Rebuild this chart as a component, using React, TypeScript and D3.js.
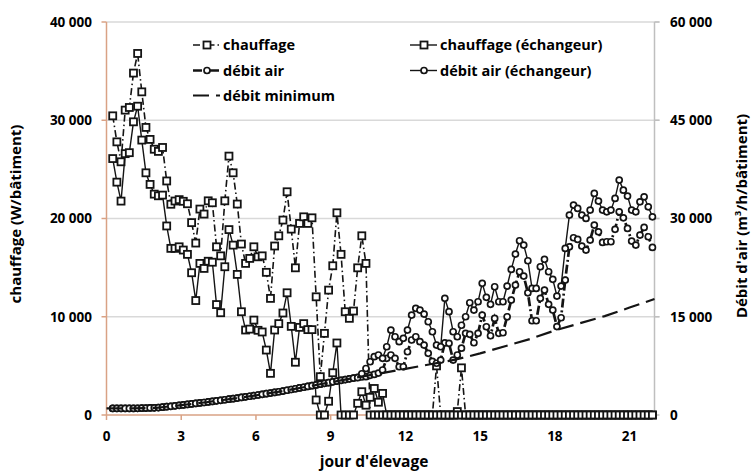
import { useRef, useEffect } from "react";
import * as d3 from "d3";

// one point every 4 hours, first one at day 0.25
const N_POINTS = 131;
const days = d3.range(N_POINTS).map((i) => 0.25 + i / 6);

// chauffage (W/bâtiment), left axis
const chauffage = [
  30450, 27800, 25770, 31030, 31300, 34800, 36800, 32890, 29270, 28050,
  27050, 26830, 27230, 23820, 21450, 21780, 21920, 21750, 21500, 19580,
  17500, 20960, 20450, 21800, 21600, 17120, 16200, 21800, 26350, 24650,
  21470, 17400, 15430, 15940, 17120, 16100, 16200, 14520, 11870, 17200,
  18240, 19840, 22720, 18920, 14980, 19500, 20170, 19500, 20070, 12030,
  3900, 8310, 12710, 15190, 20580, 16350, 10510, 9840, 10580, 14980,
  18240, 15430, 0, 0, 0, 0, 0, 0, 0, 0,
  0, 0, 0, 0, 0, 0, 0, 0, 5000, 0,
  0, 0, 0, 350, 4800, 0, 0, 0, 0, 0,
  0, 0, 0, 0, 0, 0, 0, 0, 0, 0,
  0, 0, 0, 0, 0, 0, 0, 0, 0, 0,
  0, 0, 0, 0, 0, 0, 0, 0, 0, 0,
  0, 0, 0, 0, 0, 0, 0, 0, 0, 0,
  0,
];

const chauffageEchangeur = [
  26100, 23700, 21770, 26600, 26700, 29840, 31430, 27980, 24650, 23470,
  22480, 22310, 22380, 19240, 16960, 16960, 17120, 16790, 16350, 14480,
  11650, 15430, 14920, 15650, 15550, 11240, 10410, 15090, 18870, 17290,
  14310, 10510, 8650, 8740, 9660, 8620, 8450, 6610, 4240, 8650,
  9300, 10380, 12440, 9020, 5370, 8920, 9300, 8690, 8690, 1530,
  0, 0, 1400, 4300, 7330, 0, 0, 0, 0, 1190,
  2370, 1000, 1800, 2700, 1300, 2200, 0, 0, 0, 0,
  0, 0, 0, 0, 0, 0, 0, 0, 0, 0,
  0, 0, 0, 0, 0, 0, 0, 0, 0, 0,
  0, 0, 0, 0, 0, 0, 0, 0, 0, 0,
  0, 0, 0, 0, 0, 0, 0, 0, 0, 0,
  0, 0, 0, 0, 0, 0, 0, 0, 0, 0,
  0, 0, 0, 0, 0, 0, 0, 0, 0, 0,
  0,
];

// débit d'air (m3/h/bâtiment), right axis
// first ten days both runs sit on the minimum flow
const debitAirDebut = [
  1000, 1000, 1000, 1000, 1000, 1010, 1025, 1040, 1060, 1075,
  1090, 1130, 1200, 1270, 1330, 1400, 1470, 1540, 1610, 1690,
  1760, 1840, 1910, 1990, 2080, 2160, 2240, 2330, 2410, 2490,
  2590, 2680, 2770, 2860, 2960, 3050, 3150, 3250, 3350, 3450,
  3550, 3660, 3780, 3890, 4010, 4130, 4240, 4360, 4480, 4590,
  4710, 4830, 4940, 5060, 5180, 5290, 5410, 5530, 5640,
];

const debitAirFin = [
  5750, 5800, 5850, 6050, 6200, 6400, 6870, 8650, 9160, 8650,
  7370, 7370, 9660, 11450, 11950, 11190, 10680, 9410, 8200, 7900,
  8390, 11000, 10940, 8390, 9160, 10200, 12470, 12310, 11030, 12470,
  15260, 13470, 12100, 14750, 12470, 12560, 15000, 17550, 19840, 21870,
  21210, 18660, 14390, 14390, 17810, 19080, 16890, 16020, 13500, 14850,
  20600, 25680, 27060, 26810, 25790, 25180, 26710, 28990, 27970, 26350,
  26450, 26450, 28340, 31020, 30110, 28490, 26550, 25940, 27470, 28640,
  27210, 25590,
];

const debitAirEchangeurFin = [
  5700, 6300, 7100, 8130, 8900, 9160, 8650, 10420, 12970, 11950,
  11190, 11700, 12970, 15260, 16280, 16020, 15410, 14240, 12710, 10680,
  10420, 17810, 15770, 12710, 11950, 13700, 15000, 17140, 16020, 17290,
  20100, 17960, 16890, 19580, 17290, 17290, 19690, 22230, 24570, 26600,
  25940, 23550, 19330, 19330, 22630, 23760, 21870, 20710, 18160, 19690,
  25430, 30520, 32050, 31540, 30520, 30010, 31280, 33830, 32660, 31280,
  31020, 31280, 33070, 35860, 34330, 33420, 31280, 31020, 32550, 33310,
  31790, 30260,
];

const debitAir = debitAirDebut.concat(debitAirFin);
const debitAirEchangeur = debitAirDebut.concat(debitAirEchangeurFin);

const minDays = [0, 1, 2, 3, 4, 5, 6, 7, 8, 9, 10, 11, 12, 13, 14, 15, 16, 17, 18, 19, 20, 21, 22];
const debitMinimum = [
  1000, 1000, 1100, 1500, 1950, 2450, 3000, 3600, 4300, 5000, 5700, 6350,
  7050, 7750, 8450, 9400, 10500, 11600, 12900, 14000, 15100, 16400, 17700,
];

const xTicks = [0, 3, 6, 9, 12, 15, 18, 21];
const leftTicks = [0, 10000, 20000, 30000, 40000];
const rightTicks = [0, 15000, 30000, 45000, 60000];

const W = 752;
const H = 475;
const AXIS_COLOR = "#d9a285";
const GRID_COLOR = "#d9d9d9";
const INK = "#141414";
const FONT = "'Open Sans', 'DejaVu Sans', sans-serif";

const fr = d3.formatLocale({ decimal: ",", thousands: " ", grouping: [3], currency: ["", " €"] });
const fmt = fr.format(",");

const App = () => {
  const svgRef = useRef(null);

  useEffect(() => {
    const svg = d3.select(svgRef.current);
    svg.selectAll("*").remove();

    const x = d3.scaleLinear().domain([0, 22]).range([106.5, 654.5]);
    const yL = d3.scaleLinear().domain([0, 40000]).range([415, 22]);
    const yR = d3.scaleLinear().domain([0, 60000]).range([415, 22]);

    svg.append("rect").attr("width", W).attr("height", H).attr("fill", "#fff");

    // grid
    svg
      .append("g")
      .selectAll("line")
      .data(leftTicks.slice(1))
      .join("line")
      .attr("x1", x(0))
      .attr("x2", x(22) + 5)
      .attr("y1", (d) => yL(d))
      .attr("y2", (d) => yL(d))
      .attr("stroke", GRID_COLOR)
      .attr("stroke-width", 1.6);

    // right axis (grey)
    const right = svg.append("g");
    right
      .append("line")
      .attr("x1", x(22))
      .attr("x2", x(22))
      .attr("y1", yR(60000))
      .attr("y2", yR(0))
      .attr("stroke", "#bfbfbf")
      .attr("stroke-width", 1.5);
    right
      .selectAll("line.t")
      .data(rightTicks)
      .join("line")
      .attr("class", "t")
      .attr("x1", x(22))
      .attr("x2", x(22) + 5)
      .attr("y1", (d) => yR(d))
      .attr("y2", (d) => yR(d))
      .attr("stroke", "#bfbfbf")
      .attr("stroke-width", 1.5);
    right
      .selectAll("text")
      .data(rightTicks)
      .join("text")
      .attr("x", 670)
      .attr("y", (d) => yR(d))
      .attr("dy", "0.36em")
      .attr("font-family", FONT)
      .attr("font-weight", 700)
      .attr("font-size", 13.5)
      .text((d) => fmt(d));

    // left axis
    const left = svg.append("g");
    left
      .selectAll("line.t")
      .data(leftTicks)
      .join("line")
      .attr("class", "t")
      .attr("x1", x(0) - 5)
      .attr("x2", x(0))
      .attr("y1", (d) => yL(d))
      .attr("y2", (d) => yL(d))
      .attr("stroke", AXIS_COLOR)
      .attr("stroke-width", 1.5);
    left
      .selectAll("text")
      .data(leftTicks)
      .join("text")
      .attr("x", 92)
      .attr("y", (d) => yL(d))
      .attr("dy", "0.36em")
      .attr("text-anchor", "end")
      .attr("font-family", FONT)
      .attr("font-weight", 700)
      .attr("font-size", 13.5)
      .text((d) => fmt(d));

    // bottom axis
    const bottom = svg.append("g");
    bottom
      .selectAll("line.t")
      .data(xTicks)
      .join("line")
      .attr("class", "t")
      .attr("x1", (d) => x(d))
      .attr("x2", (d) => x(d))
      .attr("y1", yL(0))
      .attr("y2", yL(0) + 5)
      .attr("stroke", AXIS_COLOR)
      .attr("stroke-width", 1.5);
    bottom
      .selectAll("text")
      .data(xTicks)
      .join("text")
      .attr("x", (d) => x(d))
      .attr("y", 441)
      .attr("text-anchor", "middle")
      .attr("font-family", FONT)
      .attr("font-weight", 700)
      .attr("font-size", 13.5)
      .text((d) => d);

    svg
      .append("line")
      .attr("x1", x(0))
      .attr("x2", x(0))
      .attr("y1", yL(40000))
      .attr("y2", yL(0))
      .attr("stroke", AXIS_COLOR)
      .attr("stroke-width", 1.5);
    svg
      .append("line")
      .attr("x1", x(0))
      .attr("x2", x(22))
      .attr("y1", yL(0))
      .attr("y2", yL(0))
      .attr("stroke", AXIS_COLOR)
      .attr("stroke-width", 1.5);

    // axis titles
    svg
      .append("text")
      .attr("transform", `translate(21, 214) rotate(-90)`)
      .attr("text-anchor", "middle")
      .attr("font-family", FONT)
      .attr("font-weight", 700)
      .attr("font-size", 15)
      .text("chauffage (W/bâtiment)");
    const rt = svg
      .append("text")
      .attr("transform", `translate(747, 216) rotate(-90)`)
      .attr("text-anchor", "middle")
      .attr("font-family", FONT)
      .attr("font-weight", 700)
      .attr("font-size", 15);
    rt.append("tspan").text("Débit d'air (m");
    rt.append("tspan").attr("font-size", 9).attr("dy", -6).text("3");
    rt.append("tspan").attr("dy", 6).text("/h/bâtiment)");
    svg
      .append("text")
      .attr("x", 374)
      .attr("y", 467)
      .attr("text-anchor", "middle")
      .attr("font-family", FONT)
      .attr("font-weight", 700)
      .attr("font-size", 15.5)
      .text("jour d'élevage");

    const series = [
      { name: "chauffage", xs: days, values: chauffage, y: yL, dash: "7,3,1.5,3", width: 1.6, marker: "square" },
      { name: "chauffage (échangeur)", xs: days, values: chauffageEchangeur, y: yL, dash: null, width: 1.4, marker: "square" },
      { name: "débit air", xs: days, values: debitAir, y: yR, dash: "9,3,2,3", width: 2.7, marker: "circle" },
      { name: "débit air (échangeur)", xs: days, values: debitAirEchangeur, y: yR, dash: null, width: 1.4, marker: "circle" },
      { name: "débit minimum", xs: minDays, values: debitMinimum, y: yR, dash: "16,7", width: 2.2, marker: null },
    ];

    const drawMarker = (g, type, cx, cy) => {
      if (type === "square") {
        g.append("rect")
          .attr("x", cx - 3.5)
          .attr("y", cy - 3.5)
          .attr("width", 7)
          .attr("height", 7)
          .attr("fill", "#fff")
          .attr("stroke", INK)
          .attr("stroke-width", 1.8);
      } else if (type === "circle") {
        g.append("circle")
          .attr("cx", cx)
          .attr("cy", cy)
          .attr("r", 3)
          .attr("fill", "#fff")
          .attr("stroke", INK)
          .attr("stroke-width", 1.7);
      }
    };

    series.forEach((s) => {
      const g = svg.append("g");
      const pts = s.values.map((v, i) => [x(s.xs[i]), s.y(v)]);
      g.append("path")
        .attr("d", d3.line()(pts))
        .attr("fill", "none")
        .attr("stroke", INK)
        .attr("stroke-width", s.width)
        .attr("stroke-dasharray", s.dash);
      if (s.marker) pts.forEach(([cx, cy]) => drawMarker(g, s.marker, cx, cy));
    });

    // legend, two columns filled row by row
    const legendPos = [
      [193, 45],
      [410, 45],
      [193, 70.5],
      [410, 70.5],
      [193, 95.5],
    ];
    series.forEach((s, i) => {
      const [lx, ly] = legendPos[i];
      const g = svg.append("g");
      g.append("line")
        .attr("x1", lx)
        .attr("x2", lx + 27)
        .attr("y1", ly)
        .attr("y2", ly)
        .attr("stroke", INK)
        .attr("stroke-width", s.width)
        .attr("stroke-dasharray", s.dash);
      if (s.marker) drawMarker(g, s.marker, lx + 14, ly);
      g.append("text")
        .attr("x", lx + 30)
        .attr("y", ly)
        .attr("dy", "0.35em")
        .attr("font-family", FONT)
        .attr("font-weight", 700)
        .attr("font-size", 14.5)
        .text(s.name);
    });
  }, []);

  return (
    <div style={{ position: "absolute", left: 0, top: 0 }}>
      <svg ref={svgRef} width={W} height={H} style={{ display: "block" }}></svg>
    </div>
  );
};

export default App;
